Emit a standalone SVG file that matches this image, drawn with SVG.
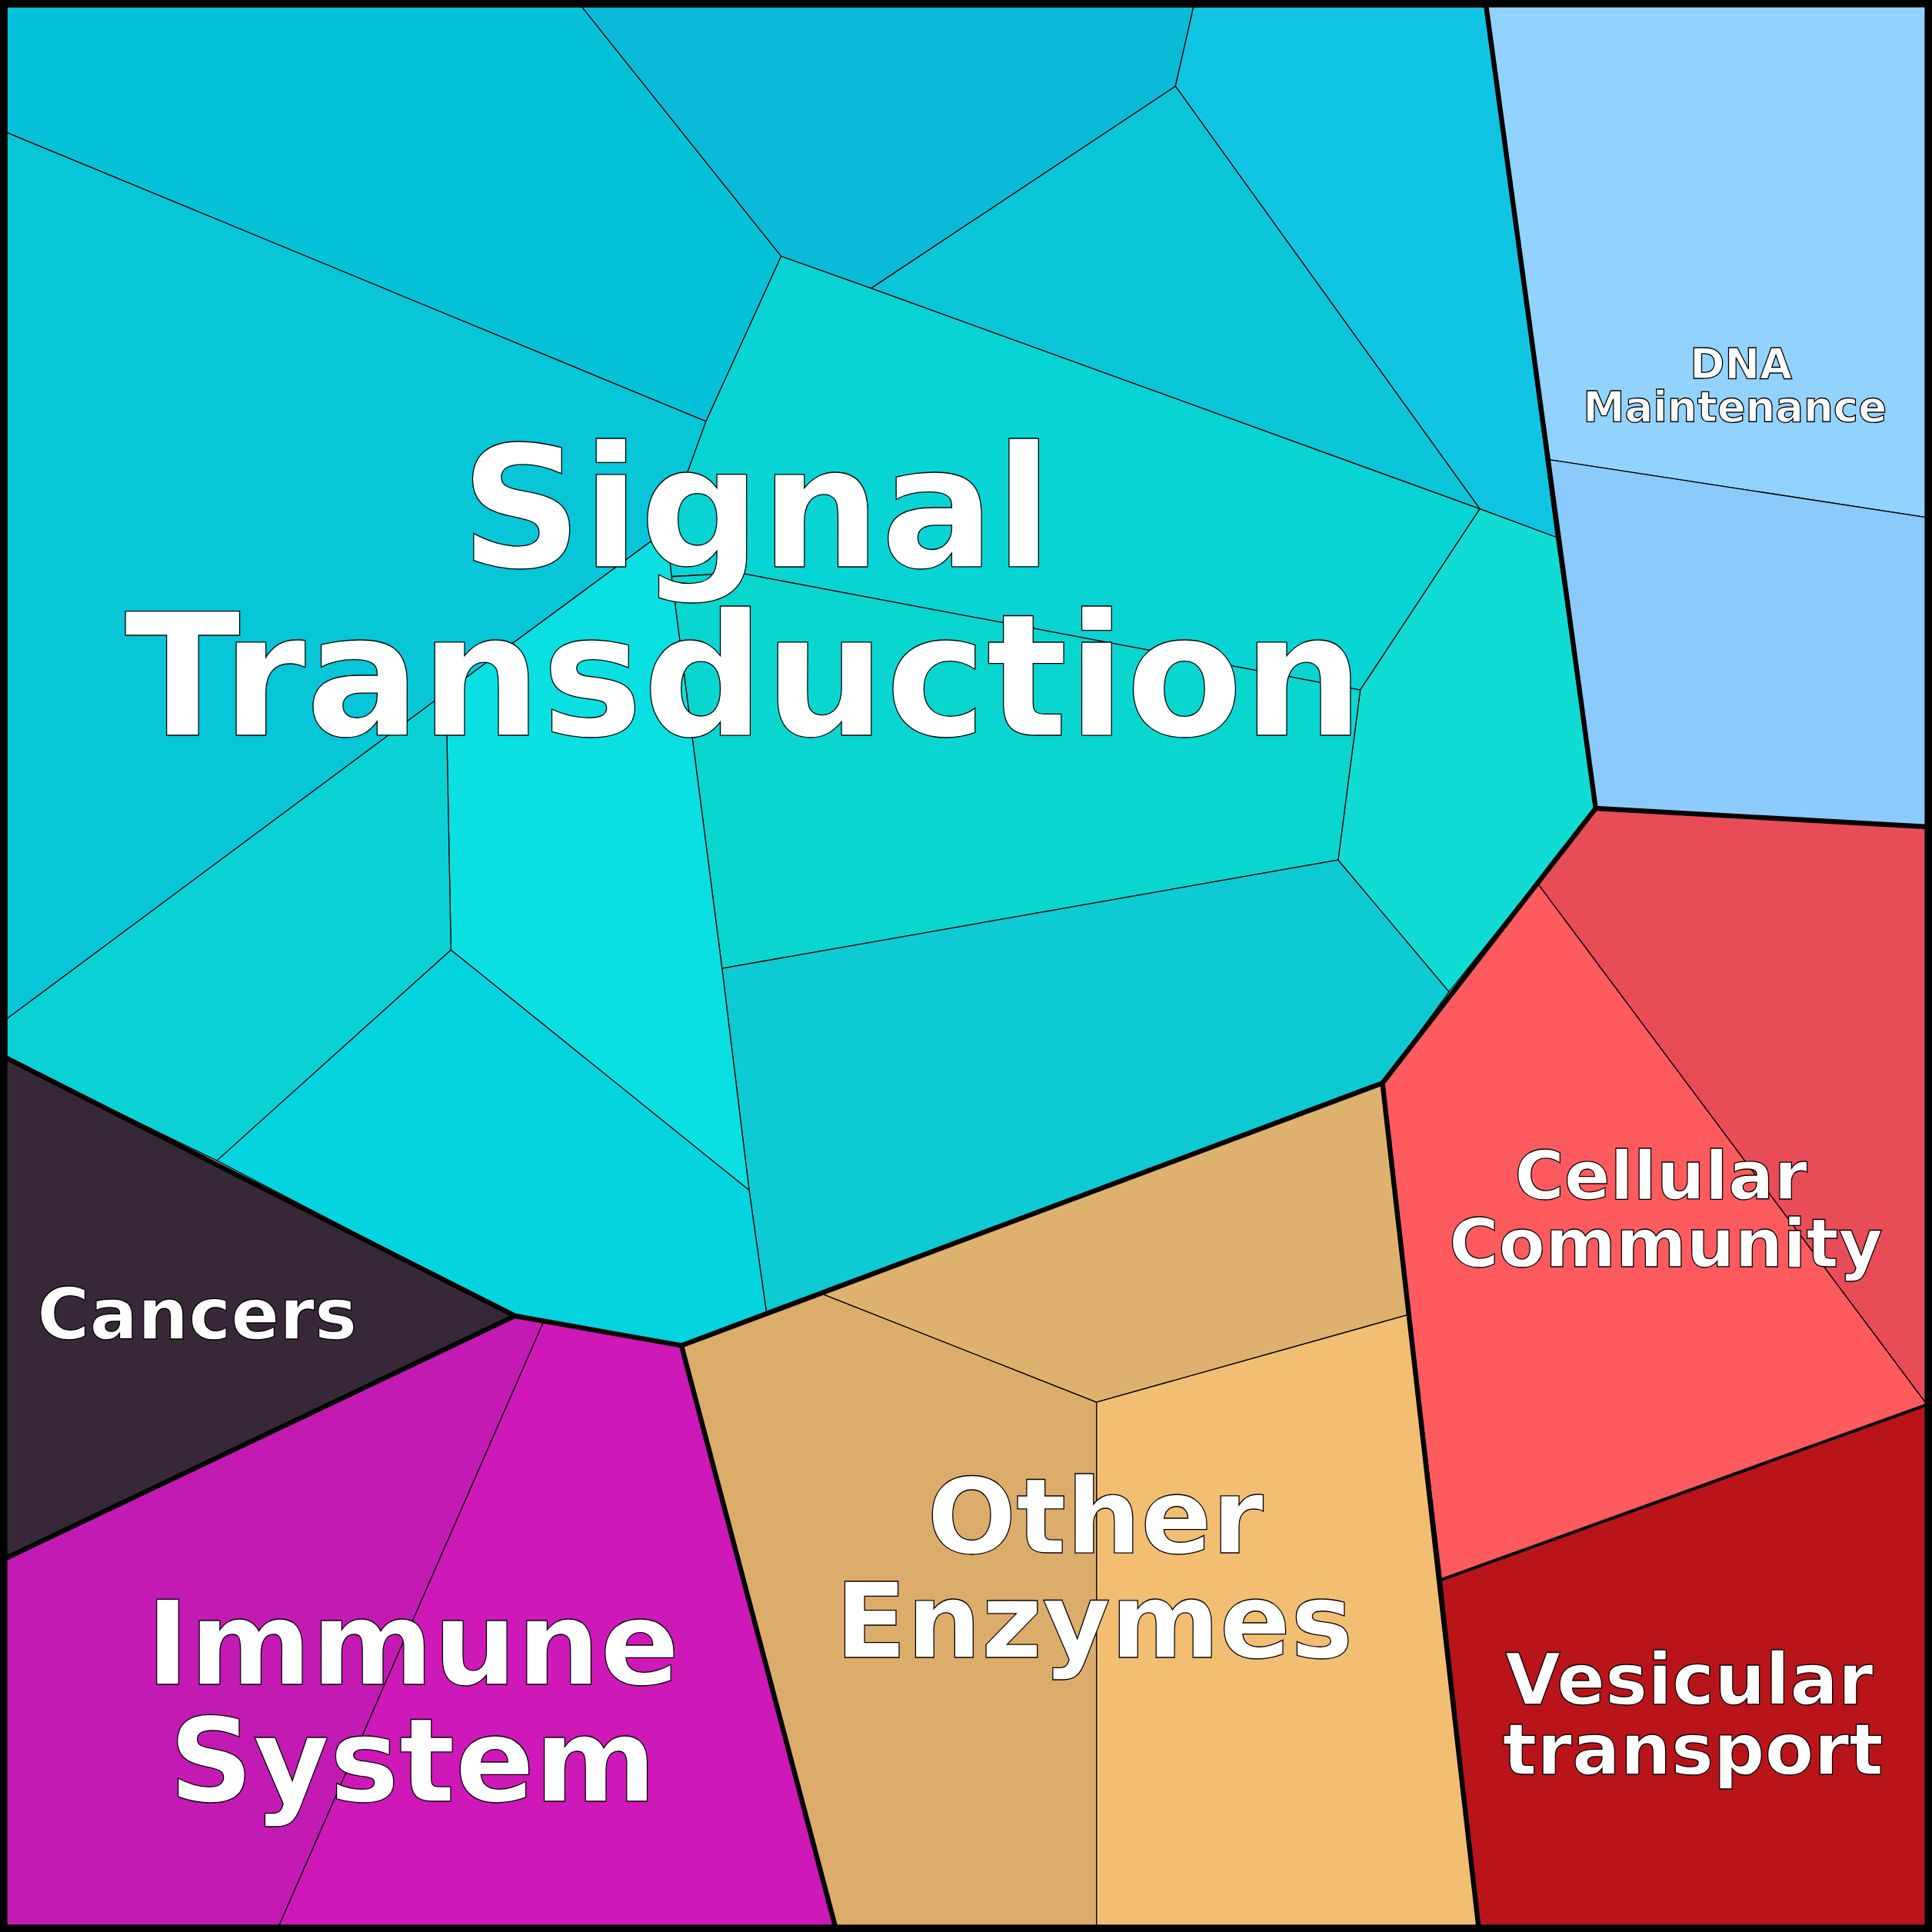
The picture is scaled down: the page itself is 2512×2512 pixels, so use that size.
<svg xmlns="http://www.w3.org/2000/svg" width="2512" height="2512" viewBox="0 0 2512 2512">
<style>
.c{stroke:#000;stroke-width:0.8;stroke-linejoin:round}
.b{fill:none;stroke:#000;stroke-width:4;stroke-linejoin:round}
text{font-family:"DejaVu Sans",sans-serif;font-weight:bold;fill:#fff;stroke:#000;stroke-width:0.8;text-anchor:middle}
</style>
<g transform="scale(1.60204)">
<g id="signal">
<polygon class="c" fill="#06c2d8" points="4,4 471,4 634,208 573,342 4,107"/>
<polygon class="c" fill="#0abbd8" points="471,4 969,4 954,70 707,234 634,208"/>
<polygon class="c" fill="#10c5e2" points="969,4 1206,4 1263,436 1201,413 954,70"/>
<polygon class="c" fill="#0ac6d8" points="954,70 1201,413 707,234"/>
<polygon class="c" fill="#06c6d8" points="4,107 573,342 541,430 362,562 4,828"/>
<polygon class="c" fill="#09d4d4" points="634,208 707,234 1201,413 1104,560 600,465 545,468 541,430 573,342"/>
<polygon class="c" fill="#10dcd4" points="1201,413 1263,436 1295,656 1176,805 1086,698 1104,560"/>
<polygon class="c" fill="#0ad6d0" points="545,468 600,465 1104,560 1086,698 586,786"/>
<polygon class="c" fill="#0ecad2" points="586,786 1086,698 1176,805 1122,879 622,1065 608,966"/>
<polygon class="c" fill="#0ae0e2" points="541,430 545,468 586,786 608,966 366,771 362,562"/>
<polygon class="c" fill="#0ad2d4" points="4,828 362,562 366,771 176,942 4,858"/>
<polygon class="c" fill="#04d4e0" points="176,942 366,771 608,966 622,1065 553,1092 418,1068"/>
</g>
<g id="cancers"><polygon class="c" fill="#372837" points="4,858 418,1068 4,1265"/></g>
<g id="immune">
<polygon class="c" fill="#c41ab4" points="4,1265 418,1068 441,1073 226,1564 4,1564"/>
<polygon class="c" fill="#cf18b8" points="441,1073 553,1092 678,1564 226,1564"/>
</g>
<g id="enzymes">
<polygon class="c" fill="#dcac6a" points="553,1092 667,1050 890,1138 890,1564 678,1564"/>
<polygon class="c" fill="#deb26e" points="667,1050 1122,879 1143,1067 890,1138"/>
<polygon class="c" fill="#f2be72" points="890,1138 1143,1067 1200,1564 890,1564"/>
</g>
<g id="cellular">
<polygon class="c" fill="#ff5a5e" points="1122,879 1248,717 1564,1140 1170,1282"/>
<polygon class="c" fill="#e84c56" points="1248,717 1295,656 1564,671 1564,1140"/>
</g>
<g id="vesicular"><polygon class="c" fill="#b8141a" points="1170,1282 1564,1140 1564,1564 1200,1564"/></g>
<g id="dna">
<polygon class="c" fill="#92d2fe" points="1206,4 1564,4 1564,420 1257,373"/>
<polygon class="c" fill="#8ccafc" points="1257,373 1564,420 1564,671 1295,656"/>
</g>
<g id="borders">
<polygon class="b" points="4,4 1206,4 1295,656 1122,879 553,1092 418,1068 4,858"/>
<polyline class="b" points="4,1265 418,1068"/>
<polyline class="b" points="553,1092 678,1564"/>
<polyline class="b" points="1122,879 1200,1564"/>
<polyline class="b" points="1295,656 1564,671"/>
<polyline class="b" points="1170,1282 1564,1140" style="stroke-width:2.5"/>
<rect x="3" y="3" width="1562" height="1562" fill="none" stroke="#000" stroke-width="6"/>
</g>
<g id="labels">
<text x="614" y="460" font-size="137">Signal</text>
<text x="604" y="597" font-size="138">Transduction</text>
<text x="335" y="1367" font-size="95">Immune</text>
<text x="335" y="1462" font-size="95">System</text>
<text x="889" y="1260" font-size="85">Other</text>
<text x="888" y="1345" font-size="85">Enzymes</text>
<text x="160" y="1087" font-size="58">Cancers</text>
<text x="1348" y="973" font-size="55">Cellular</text>
<text x="1352" y="1028" font-size="55">Community</text>
<text x="1371" y="1383" font-size="58">Vesicular</text>
<text x="1374" y="1440" font-size="58">transport</text>
<text x="1413" y="307" font-size="34">DNA</text>
<text x="1408" y="342" font-size="34">Maintenance</text>
</g>
</g>
</svg>
